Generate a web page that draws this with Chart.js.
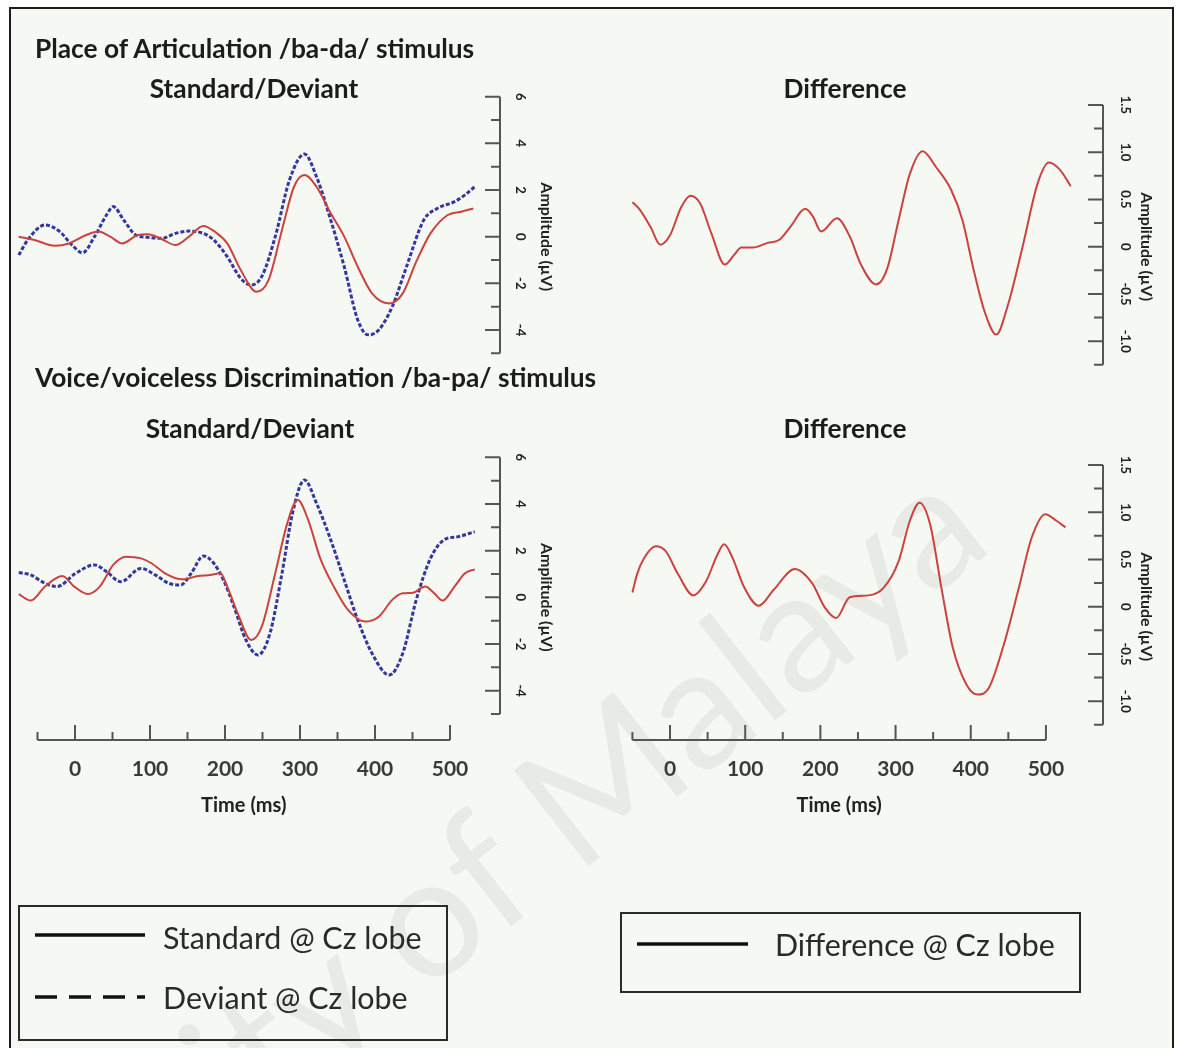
<!DOCTYPE html>
<html lang="en">
<head>
<meta charset="utf-8">
<title>Cz waveforms</title>
<script src="https://cdn.jsdelivr.net/npm/chart.js@4.4.1/dist/chart.umd.min.js"></script>
<style>
  html, body { margin: 0; padding: 0; background: #fff; }
  #page { position: relative; width: 1179px; height: 1048px; overflow: hidden; background: #fff;
          font-family: Lato, "Open Sans", sans-serif; color: #1c1c1c; }
  #frame { position: absolute; left: 9px; top: 7px; width: 1165px; height: 1100px; box-sizing: border-box;
           border: 2px solid #1c1c1c; background: #f5f8f3; }
  #mark { position: absolute; left: 355px; top: 965px; transform: translate(-50%, -50%) rotate(-38deg);
          font-size: 170px; line-height: 1; white-space: nowrap; color: rgba(0, 0, 0, 0.055); }
  canvas { position: absolute; left: 0; top: 0; }
  .txt { position: absolute; white-space: nowrap; transform: translateY(-50%); line-height: 1; }
  .head { font-weight: 700; font-size: 26.3px; }
  .sub { font-weight: 700; font-size: 26.3px; transform: translate(-50%, -50%); }
  .key { position: absolute; box-sizing: border-box; border: 2px solid #2a2a2a; }
  .keytxt { font-size: 30.4px; color: #2a2a2a; }
  svg { position: absolute; left: 0; top: 0; }
</style>
</head>
<body>
<div id="page">
  <div id="frame"></div>
  <div id="mark">University of Malaya</div>
  <canvas id="tl" width="1179" height="1048"></canvas>
  <canvas id="tr" width="1179" height="1048"></canvas>
  <canvas id="bl" width="1179" height="1048"></canvas>
  <canvas id="br" width="1179" height="1048"></canvas>

  <div class="txt head" style="left:35px; top:48px">Place of Articulation /ba-da/ stimulus</div>
  <div class="txt sub" style="left:254px; top:88px">Standard/Deviant</div>
  <div class="txt sub" style="left:845px; top:88px">Difference</div>
  <div class="txt head" style="left:35px; top:377px">Voice/voiceless Discrimination /ba-pa/ stimulus</div>
  <div class="txt sub" style="left:250px; top:428px">Standard/Deviant</div>
  <div class="txt sub" style="left:845px; top:428px">Difference</div>

  <div class="key" style="left:18px; top:905px; width:430px; height:136px"></div>
  <div class="key" style="left:620px; top:912px; width:461px; height:81px"></div>
  <svg width="1179" height="1048">
    <line x1="35" y1="935" x2="145" y2="935" stroke="#111" stroke-width="3.5"/>
    <line x1="35" y1="997" x2="145" y2="997" stroke="#111" stroke-width="3.5" stroke-dasharray="22 12"/>
    <line x1="637" y1="944" x2="748" y2="944" stroke="#111" stroke-width="3.5"/>
  </svg>
  <div class="txt keytxt" style="left:163px; top:937px">Standard @ Cz lobe</div>
  <div class="txt keytxt" style="left:163px; top:997px">Deviant @ Cz lobe</div>
  <div class="txt keytxt" style="left:775px; top:944px">Difference @ Cz lobe</div>
</div>

<script>
// Grand-average waveforms at Cz: time in ms, amplitude in µV

// /ba-da/ standard and deviant
const tlStdTime = [-75, -54, -27, -8, 15, 31, 47, 63, 84, 97, 116, 134, 152, 171, 187, 203, 221, 242, 258, 276, 292, 306, 322, 341, 359, 377, 396, 419, 437, 455, 474, 497, 515, 531];
const tlStdAmp  = [0.0, -0.14, -0.39, -0.29, 0.07, 0.22, 0.0, -0.29, 0.07, 0.10, -0.11, -0.36, 0.0, 0.46, 0.2, -0.29, -1.43, -2.36, -1.86, 0.29, 2.14, 2.64, 2.14, 1.0, 0.0, -1.29, -2.43, -2.86, -2.43, -1.07, 0.14, 0.93, 1.07, 1.21];
const tlDevTime = [-75, -63, -40, -20, -4, 10, 26, 42, 51, 65, 81, 97, 116, 134, 152, 171, 185, 203, 221, 235, 249, 267, 286, 306, 322, 341, 359, 377, 391, 405, 423, 442, 465, 483, 506, 520, 533];
const tlDevAmp  = [-0.79, -0.14, 0.5, 0.21, -0.36, -0.69, 0.0, 0.93, 1.29, 0.71, 0.07, -0.03, -0.07, 0.14, 0.24, 0.14, -0.14, -0.86, -1.79, -2.07, -1.71, 0.0, 2.43, 3.54, 2.57, 0.71, -1.29, -3.57, -4.21, -4.0, -3.0, -1.29, 0.71, 1.21, 1.5, 1.79, 2.14];

// /ba-da/ difference wave
const trDiffTime = [-50, -41, -26, -13, 0, 15, 27, 40, 55, 73, 85, 95, 110, 130, 145, 160, 180, 190, 201, 222, 239, 254, 274, 289, 304, 319, 336, 354, 374, 389, 404, 419, 434, 449, 469, 489, 504, 519, 533];
const trDiffAmp  = [0.47, 0.40, 0.21, 0.02, 0.12, 0.42, 0.54, 0.46, 0.14, -0.19, -0.09, -0.01, -0.01, 0.04, 0.07, 0.21, 0.40, 0.32, 0.16, 0.30, 0.11, -0.19, -0.40, -0.23, 0.28, 0.77, 1.01, 0.84, 0.60, 0.28, -0.25, -0.70, -0.93, -0.63, 0.0, 0.67, 0.89, 0.81, 0.64];

// /ba-pa/ standard and deviant
const blStdTime = [-75, -59, -40, -17, -1, 17, 33, 51, 68, 88, 102, 120, 143, 164, 180, 194, 203, 217, 235, 249, 267, 283, 297, 311, 327, 345, 364, 387, 405, 423, 437, 451, 467, 479, 490, 506, 520, 533];
const blStdAmp  = [0.14, -0.14, 0.46, 0.91, 0.46, 0.14, 0.46, 1.39, 1.74, 1.67, 1.46, 1.03, 0.77, 0.91, 0.96, 1.03, 0.46, -0.69, -1.83, -1.26, 1.03, 3.17, 4.17, 3.31, 1.67, 0.46, -0.54, -1.04, -0.83, -0.11, 0.17, 0.2, 0.46, 0.17, -0.14, 0.46, 1.03, 1.2];
const blDevTime = [-75, -59, -40, -24, 1, 26, 42, 61, 88, 107, 125, 141, 155, 171, 185, 198, 212, 228, 244, 260, 276, 290, 306, 322, 341, 359, 377, 396, 419, 437, 455, 474, 492, 511, 533];
const blDevAmp  = [1.06, 0.96, 0.6, 0.46, 1.03, 1.39, 1.1, 0.67, 1.24, 0.96, 0.6, 0.53, 1.03, 1.77, 1.46, 0.74, -0.4, -1.83, -2.47, -1.54, 1.03, 3.6, 5.03, 4.03, 2.46, 0.74, -0.97, -2.4, -3.33, -2.4, -0.11, 1.67, 2.46, 2.6, 2.81];

// /ba-pa/ difference wave
const brDiffTime = [-50, -44, -34, -19, -6, 11, 31, 48, 63, 72, 83, 99, 118, 138, 166, 189, 206, 221, 239, 264, 284, 304, 319, 332, 346, 361, 376, 394, 409, 424, 444, 464, 481, 499, 514, 526];
const brDiffAmp  = [0.15, 0.34, 0.52, 0.64, 0.59, 0.34, 0.12, 0.27, 0.55, 0.66, 0.52, 0.20, 0.01, 0.18, 0.40, 0.25, -0.01, -0.12, 0.1, 0.12, 0.2, 0.48, 0.91, 1.1, 0.87, 0.2, -0.43, -0.82, -0.93, -0.86, -0.4, 0.2, 0.73, 0.98, 0.91, 0.84];

// axis ticks
const timeTicks = [-50, 0, 50, 100, 150, 200, 250, 300, 350, 400, 450, 500];
const timeLabels = [0, 100, 200, 300, 400, 500];
const swAmpTicks = [-5, -4, -3, -2, -1, 0, 1, 2, 3, 4, 5, 6];
const swAmpLabels = [-4, -2, 0, 2, 4, 6];
const diffAmpTicks = [-1.25, -1, -0.75, -0.5, -0.25, 0, 0.25, 0.5, 0.75, 1, 1.25, 1.5];
const diffAmpLabels = [-1, -0.5, 0, 0.5, 1, 1.5];

const RED = 'rgb(204, 66, 62)';
const BLUE = '#34389c';

function trace(times, amps) {
  return times.map((t, i) => ({ x: t, y: amps[i] }));
}

function stdLine(times, amps) {
  return { data: trace(times, amps), borderColor: RED, borderWidth: 2 };
}

function devLine(times, amps) {
  return { data: trace(times, amps), borderColor: BLUE, borderWidth: 3, borderDash: [4, 2] };
}

function fmtDiff(v) {
  return v === 0 ? '0' : v.toFixed(1);
}

// R-style axes: amplitude axis on the right with inward ticks and rotated labels,
// optional time axis under the bottom row
const erpAxes = {
  id: 'erpAxes',
  afterDraw(chart, args, o) {
    const ctx = chart.ctx;
    const xs = chart.scales.x, ys = chart.scales.y;
    ctx.save();
    ctx.strokeStyle = '#555';
    ctx.lineWidth = 2;
    ctx.fillStyle = '#222';

    const yTop = ys.getPixelForValue(o.ampTicks[o.ampTicks.length - 1]);
    const yBot = ys.getPixelForValue(o.ampTicks[0]);
    ctx.beginPath();
    ctx.moveTo(o.axisX, yTop);
    ctx.lineTo(o.axisX, yBot);
    o.ampTicks.forEach(v => {
      const y = ys.getPixelForValue(v);
      const len = o.ampLabels.includes(v) || v === o.ampTicks[o.ampTicks.length - 1] ? 15 : 9;
      ctx.moveTo(o.axisX - len, y);
      ctx.lineTo(o.axisX, y);
    });
    ctx.stroke();

    ctx.textAlign = 'center';
    ctx.textBaseline = 'middle';
    ctx.font = 'bold 13px Lato, sans-serif';
    o.ampLabels.forEach(v => {
      ctx.save();
      ctx.translate(o.labelX, ys.getPixelForValue(v));
      ctx.rotate(Math.PI / 2);
      ctx.fillText(o.fmt(v), 0, 0);
      ctx.restore();
    });
    ctx.save();
    ctx.font = 'bold 16px Lato, sans-serif';
    ctx.translate(o.titleX, ys.getPixelForValue(0));
    ctx.rotate(Math.PI / 2);
    ctx.fillText('Amplitude (µV)', 0, 0);
    ctx.restore();

    if (o.timeAxisY) {
      const y0 = o.timeAxisY;
      ctx.beginPath();
      ctx.moveTo(xs.getPixelForValue(timeTicks[0]), y0);
      ctx.lineTo(xs.getPixelForValue(timeTicks[timeTicks.length - 1]), y0);
      timeTicks.forEach(t => {
        const x = xs.getPixelForValue(t);
        const len = timeLabels.includes(t) ? 15 : 8;
        ctx.moveTo(x, y0);
        ctx.lineTo(x, y0 - len);
      });
      ctx.stroke();
      ctx.fillStyle = '#3a3a3a';
      ctx.font = 'bold 21px Lato, sans-serif';
      timeLabels.forEach(t => ctx.fillText(String(t), xs.getPixelForValue(t), y0 + 29));
      ctx.font = 'bold 20px Lato, sans-serif';
      ctx.fillStyle = '#222';
      const mid = (timeTicks[0] + timeTicks[timeTicks.length - 1]) / 2;
      ctx.fillText('Time (ms)', xs.getPixelForValue(mid), y0 + 66);
    }
    ctx.restore();
  }
};

function panel(id, box, xRange, yRange, datasets, axes) {
  return new Chart(document.getElementById(id), {
    type: 'line',
    data: { datasets },
    options: {
      responsive: false,
      animation: false,
      devicePixelRatio: 1,
      layout: { padding: { left: box.left, top: box.top, right: 1179 - box.right, bottom: 1048 - box.bottom } },
      elements: {
        point: { radius: 0 },
        line: { cubicInterpolationMode: 'monotone', fill: false }
      },
      scales: {
        x: { type: 'linear', min: xRange[0], max: xRange[1], display: false },
        y: { type: 'linear', min: yRange[0], max: yRange[1], display: false }
      },
      plugins: {
        legend: { display: false },
        tooltip: { enabled: false },
        erpAxes: axes
      }
    },
    plugins: [erpAxes]
  });
}

const leftX = { left: 15, right: 480 };
const rightX = { left: 624.9, right: 1076 };

panel('tl', { ...leftX, top: 96.7, bottom: 353.3 }, [-80, 540], [-5, 6],
  [stdLine(tlStdTime, tlStdAmp), devLine(tlDevTime, tlDevAmp)],
  { axisX: 500, labelX: 520, titleX: 546, ampTicks: swAmpTicks, ampLabels: swAmpLabels, fmt: String });

panel('tr', { ...rightX, top: 104.9, bottom: 364.8 }, [-60, 540], [-1.25, 1.5],
  [stdLine(trDiffTime, trDiffAmp)],
  { axisX: 1103, labelX: 1125, titleX: 1146, ampTicks: diffAmpTicks, ampLabels: diffAmpLabels, fmt: fmtDiff });

panel('bl', { ...leftX, top: 457.3, bottom: 714 }, [-80, 540], [-5, 6],
  [stdLine(blStdTime, blStdAmp), devLine(blDevTime, blDevAmp)],
  { axisX: 500, labelX: 520, titleX: 546, ampTicks: swAmpTicks, ampLabels: swAmpLabels, fmt: String, timeAxisY: 740 });

panel('br', { ...rightX, top: 465, bottom: 724.8 }, [-60, 540], [-1.25, 1.5],
  [stdLine(brDiffTime, brDiffAmp)],
  { axisX: 1103, labelX: 1125, titleX: 1146, ampTicks: diffAmpTicks, ampLabels: diffAmpLabels, fmt: fmtDiff, timeAxisY: 740 });
</script>
</body>
</html>
